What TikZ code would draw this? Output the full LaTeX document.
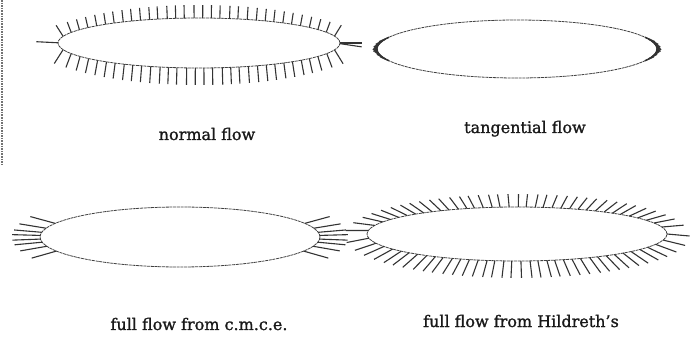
\documentclass[tikz,border=0pt]{standalone}
\usepackage{fontspec}
\newfontfamily\capfont{DejaVu Serif}[FakeBold=1.3]
\begin{document}
\begin{tikzpicture}[x=1pt, y=-1pt,
    contour/.style={line width=0.8pt, black!75, dash pattern=on 3pt off 0.7pt},
    vec/.style={line width=1.1pt, black!80},
    caption/.style={font=\capfont\fontsize{16}{19}\selectfont, text=black!90, inner sep=0pt, anchor=base}
]
\useasboundingbox (0,0) rectangle (694,339);
\draw[densely dotted, line width=1.6pt, black!55] (2,0) -- (2,166);

% normal flow
\begin{scope}[shift={(199,43)}, yscale=-1]
  \draw[contour] (0,0) ellipse [x radius=141, y radius=25];
  \gdef\acc{8.88}
  \foreach \ang in {0,0.5,...,359.5} {
    \pgfmathsetmacro\co{cos(\ang)} \pgfmathsetmacro\si{sin(\ang)}
    \pgfmathsetmacro\nx{2.5*\co} \pgfmathsetmacro\ny{14.1*\si}
    \pgfmathsetmacro\nn{sqrt(\nx*\nx+\ny*\ny)}
    \ifdim\acc pt>8.87pt
      \pgfmathparse{\acc-8.89}\xdef\acc{\pgfmathresult}
      \pgfmathsetmacro\vn{(0.155*141*\co*\nx+(0.6*25*\si-2)*\ny)/\nn}
      \draw[vec] (141*\co, 25*\si) -- ++(\vn*\nx/\nn, \vn*\ny/\nn);
    \fi
    \pgfmathparse{\acc+\nn*10*pi/360}\xdef\acc{\pgfmathresult}
  }
\end{scope}

% tangential flow
\begin{scope}[shift={(517,49)}, yscale=-1]
  \draw[contour] (0,0) ellipse [x radius=140, y radius=29];
  \foreach \ang in {-24,-20,...,24,156,160,...,204} {
    \pgfmathsetmacro\co{cos(\ang)} \pgfmathsetmacro\si{sin(\ang)}
    \pgfmathsetmacro\tx{-14*\si} \pgfmathsetmacro\ty{2.9*\co}
    \pgfmathsetmacro\nn{sqrt(\tx*\tx+\ty*\ty)}
    \pgfmathsetmacro\vt{0.7*(0.155*140*\co*\tx+(0.6*29*\si-2)*\ty)/\nn}
    \draw[vec, line width=1.5pt] (140*\co, 29*\si) -- ++(\vt*\tx/\nn, \vt*\ty/\nn);
  }
\end{scope}

% full flow from c.m.c.e.
\begin{scope}[shift={(180,237)}, yscale=-1]
  \draw[contour] (0,0) ellipse [x radius=140, y radius=30];
  \foreach \ang in {-28,-18,-10,-4,3,9,17,27,153,163,171,177,184,190,198,208} {
    \pgfmathsetmacro\co{cos(\ang)} \pgfmathsetmacro\si{sin(\ang)}
    \draw[vec] (140*\co, 30*\si) -- ++(0.2*140*\co, 0.5*30*\si);
  }
\end{scope}

% full flow from Hildreth's
\begin{scope}[shift={(517,234)}, yscale=-1]
  \draw[contour] (0,0) ellipse [x radius=150, y radius=27];
  \gdef\acc{8.6}
  \foreach \ang in {0,0.5,...,359.5} {
    \pgfmathsetmacro\co{cos(\ang)} \pgfmathsetmacro\si{sin(\ang)}
    \ifdim\acc pt>8.55pt
      \pgfmathparse{\acc-8.58}\xdef\acc{\pgfmathresult}
      \draw[vec] (150*\co, 27*\si) -- ++(0.15*150*\co, 0.55*27*\si-2);
    \fi
    \pgfmathparse{\acc+sqrt((15*\si)^2+(2.7*\co)^2)*10*pi/360}\xdef\acc{\pgfmathresult}
  }
\end{scope}

\node[caption] (lnormal) at (207,140) {normal flow};
\node[caption] (ltang) at (525,133) {tangential flow};
\node[caption] (lcmce) at (199,330) {full flow from c.m.c.e.};
\node[caption] (lhild) at (521,327) {full flow from Hildreth’s};
\end{tikzpicture}
\end{document}
